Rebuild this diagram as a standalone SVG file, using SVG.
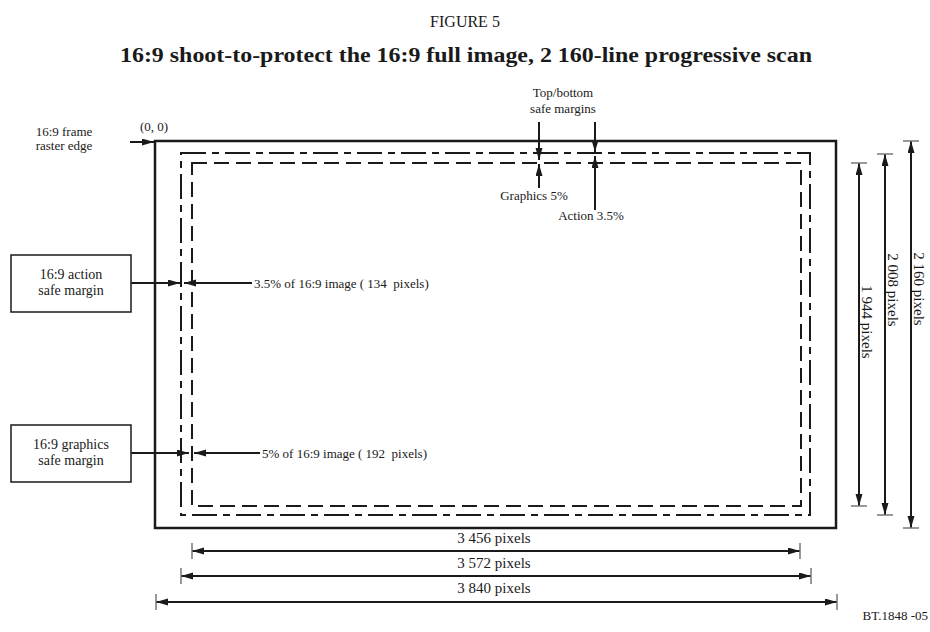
<svg xmlns="http://www.w3.org/2000/svg" width="930" height="632" viewBox="0 0 930 632">
<style>
text{font-family:"Liberation Serif","Times New Roman",serif;fill:#1a1a1a;white-space:pre}
.t13{font-size:13px}
.t14{font-size:14px}
.t15{font-size:15px}
.mid{text-anchor:middle}
.ln{stroke:#1a1a1a;stroke-width:2;fill:none}
.tick{stroke:#777;stroke-width:1.5}
</style>
<defs>
<marker id="ah" markerUnits="userSpaceOnUse" markerWidth="12" markerHeight="8" refX="12" refY="3.5" orient="auto-start-reverse">
<path d="M0,0 L12,3.5 L0,7 z" fill="#1a1a1a"/>
</marker>
</defs>
<g id="title">
<text x="465" y="27" class="mid" style="font-size:16px">FIGURE 5</text>
<text x="466" y="62" class="mid" style="font-size:20px;font-weight:bold" textLength="692" lengthAdjust="spacingAndGlyphs">16:9 shoot-to-protect the 16:9 full image, 2 160-line progressive scan</text>
</g>
<g id="frame">
<rect x="155" y="141" width="681" height="387" fill="none" stroke="#1a1a1a" stroke-width="2.5"/>
</g>
<g id="action-safe">
<rect x="181" y="153" width="629" height="362" class="ln" stroke-dasharray="25 6 7 6"/>
</g>
<g id="graphics-safe">
<rect x="192" y="163" width="609" height="343" class="ln" stroke-dasharray="15 7"/>
</g>
<g id="raster-label">
<text x="64" y="136" class="t13 mid">16:9 frame</text>
<text x="64" y="150" class="t13 mid">raster edge</text>
<text x="154" y="131" class="t13 mid">(0, 0)</text>
</g>
<g id="topbottom-label">
<text x="563" y="97" class="t13 mid">Top/bottom</text>
<text x="563" y="113" class="t13 mid">safe margins</text>
<text x="534" y="200" class="t13 mid">Graphics 5%</text>
<text x="591" y="220" class="t13 mid">Action 3.5%</text>
</g>
<g id="action-box">
<rect x="11" y="255" width="120" height="57" fill="#fff" stroke="#1a1a1a" stroke-width="1.5"/>
<text x="71" y="279" class="t14 mid">16:9 action</text>
<text x="71" y="295" class="t14 mid">safe margin</text>
</g>
<g id="graphics-box">
<rect x="11" y="425" width="120" height="57" fill="#fff" stroke="#1a1a1a" stroke-width="1.5"/>
<text x="71" y="449" class="t14 mid">16:9 graphics</text>
<text x="71" y="465" class="t14 mid">safe margin</text>
</g>
<g id="margin-labels">
<text x="254" y="288" class="t13">3.5% of 16:9 image ( 134  pixels)</text>
<text x="262" y="458" class="t13">5% of 16:9 image ( 192  pixels)</text>
</g>
<g id="dimension-labels">
<text x="494" y="543" class="t15 mid">3 456 pixels</text>
<text x="494" y="568" class="t15 mid">3 572 pixels</text>
<text x="494" y="593" class="t15 mid">3 840 pixels</text>
<text transform="translate(862,322) rotate(90)" class="t15 mid">1 944 pixels</text>
<text transform="translate(888,290) rotate(90)" class="t15 mid">2 008 pixels</text>
<text transform="translate(914,289) rotate(90)" class="t15 mid">2 160 pixels</text>
<text x="928" y="620" class="t13" text-anchor="end">BT.1848 -05</text>
</g>
<g id="connectors">
<line x1="130" y1="142" x2="154" y2="142" class="ln" marker-end="url(#ah)"/>
<line x1="539" y1="122" x2="539" y2="160" class="ln" marker-end="url(#ah)"/>
<line x1="539" y1="188" x2="539" y2="164" class="ln" marker-end="url(#ah)"/>
<line x1="595" y1="122" x2="595" y2="152" class="ln" marker-end="url(#ah)"/>
<line x1="595" y1="210" x2="595" y2="156" class="ln" marker-end="url(#ah)"/>
<line x1="131" y1="283" x2="180" y2="283" class="ln" marker-end="url(#ah)"/>
<line x1="252" y1="283" x2="184" y2="283" class="ln" marker-end="url(#ah)"/>
<line x1="131" y1="453" x2="189" y2="453" class="ln" marker-end="url(#ah)"/>
<line x1="260" y1="453" x2="194" y2="453" class="ln" marker-end="url(#ah)"/>
<line x1="192" y1="551" x2="800" y2="551" class="ln" marker-start="url(#ah)" marker-end="url(#ah)"/>
<line x1="181" y1="576" x2="811" y2="576" class="ln" marker-start="url(#ah)" marker-end="url(#ah)"/>
<line x1="156" y1="602" x2="837" y2="602" class="ln" marker-start="url(#ah)" marker-end="url(#ah)"/>
<line x1="859" y1="163" x2="859" y2="506" class="ln" marker-start="url(#ah)" marker-end="url(#ah)"/>
<line x1="885" y1="154" x2="885" y2="515" class="ln" marker-start="url(#ah)" marker-end="url(#ah)"/>
<line x1="911" y1="141" x2="911" y2="528" class="ln" marker-start="url(#ah)" marker-end="url(#ah)"/>
<g class="tick">
<line x1="192" y1="543" x2="192" y2="559"/>
<line x1="800" y1="543" x2="800" y2="559"/>
<line x1="181" y1="568" x2="181" y2="584"/>
<line x1="811" y1="568" x2="811" y2="584"/>
<line x1="156" y1="594" x2="156" y2="610"/>
<line x1="837" y1="594" x2="837" y2="610"/>
<line x1="851" y1="163" x2="867" y2="163"/>
<line x1="851" y1="506" x2="867" y2="506"/>
<line x1="877" y1="154" x2="893" y2="154"/>
<line x1="877" y1="515" x2="893" y2="515"/>
<line x1="903" y1="141" x2="919" y2="141"/>
<line x1="903" y1="528" x2="919" y2="528"/>
</g>
</g>
</svg>
